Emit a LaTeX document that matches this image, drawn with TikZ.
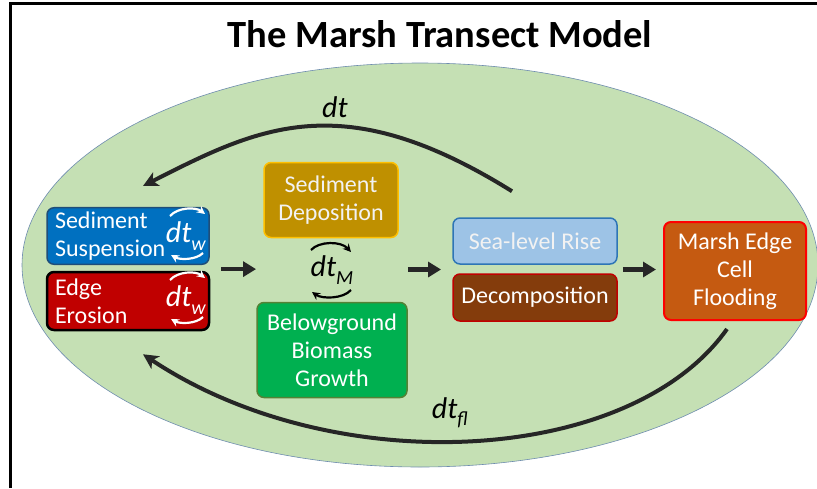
\documentclass[tikz,border=0pt]{standalone}
\usepackage{fontspec}
\setmainfont{Carlito}
\definecolor{marshgreen}{RGB}{197,224,180}
\definecolor{marshline}{RGB}{110,140,175}
\definecolor{suspblue}{RGB}{0,112,192}
\definecolor{suspedge}{RGB}{31,78,121}
\definecolor{erosred}{RGB}{192,0,0}
\definecolor{depgold}{RGB}{191,144,0}
\definecolor{depedge}{RGB}{255,192,0}
\definecolor{biogreen}{RGB}{0,176,80}
\definecolor{bioedge}{RGB}{84,130,53}
\definecolor{slrblue}{RGB}{157,195,230}
\definecolor{slredge}{RGB}{46,117,182}
\definecolor{decbrown}{RGB}{132,60,12}
\definecolor{floodorange}{RGB}{197,90,17}
\definecolor{floodedge}{RGB}{255,0,0}
\definecolor{arrowgray}{RGB}{38,38,38}
\usetikzlibrary{shapes.geometric, arrows.meta, positioning, calc, fit}

\newcommand{\dtsub}[1]{\textit{dt}\raisebox{-0.5ex}{\fontsize{20}{20}\selectfont\textit{#1}}}

\begin{document}
\begin{tikzpicture}[
  x=1pt, y=-1pt,
  box/.style={draw, rounded corners=7pt, line width=1.5pt, text=white, font=\fontsize{24}{28}\selectfont, align=center, inner sep=4pt},
  flow/.style={-{Triangle[length=13pt, width=15pt]}, line width=4.5pt, draw=arrowgray},
  bigloop/.style={-{Stealth[length=15pt, width=15pt, inset=4pt]}, line width=4pt, draw=arrowgray},
  cyc/.style={line width=2.2pt, -{Stealth[length=8pt, width=8pt]}},
  dtlabel/.style={font=\fontsize{30}{30}\selectfont}
]
  \useasboundingbox (0,0) rectangle (817,488);

  % Frame
  \draw[line width=3pt] (10,488) -- (10,3) -- (817,3);

  % Title and marsh
  \node[font=\bfseries\fontsize{38.5}{40}\selectfont] (title) at (440,34) {The Marsh Transect Model};
  \node[draw=marshline, fill=marshgreen, ellipse, line width=0.6pt, minimum width=796pt, minimum height=404pt] (marsh) at (420,265) {};

  % Processes
  \node[box, fill=suspblue, draw=suspedge, text width=146pt, align=left, inner xsep=8pt, minimum height=56pt] (susp) at (128,236) {Sediment\\Suspension};
  \node[box, fill=erosred, draw=black, line width=2.5pt, text width=146pt, align=left, inner xsep=8pt, minimum height=58pt] (eros) at (128,301) {Edge\\Erosion};
  \node[box, fill=depgold, draw=depedge, text=white!95!black, minimum width=134pt, minimum height=75pt] (dep) at (331,200) {Sediment\\Deposition};
  \node[box, fill=biogreen, draw=bioedge, minimum width=150pt, minimum height=95pt] (bio) at (332,350) {Belowground\\Biomass\\Growth};
  \node[box, fill=slrblue, draw=slredge, text=white!95!black, minimum width=164pt, minimum height=46pt] (slr) at (535,241) {Sea-level Rise};
  \node[box, fill=decbrown, draw=erosred, minimum width=164pt, minimum height=47pt] (dec) at (535,297.5) {Decomposition};
  \node[box, fill=floodorange, draw=floodedge, line width=2pt, minimum width=142pt, minimum height=98pt] (flood) at (735,271) {Marsh Edge\\Cell\\Flooding};

  % Time steps
  \node[dtlabel, text=white] (dtS) at (186,236) {\dtsub{w}};
  \node[dtlabel, text=white] (dtE) at (186,300) {\dtsub{w}};
  \node[dtlabel] (dtM) at (332,270) {\dtsub{M}};
  \foreach \n in {dtS, dtE} {
    \draw[cyc, white] ($(\n)+(-16,-20)$) .. controls ($(\n)+(-8,-29)$) and ($(\n)+(10,-29)$) .. ($(\n)+(19,-22)$);
    \draw[cyc, white] ($(\n)+(17,17)$) .. controls ($(\n)+(10,24)$) and ($(\n)+(-6,24)$) .. ($(\n)+(-15,19)$);
  }
  \draw[cyc] ($(dtM)+(-21,-20)$) .. controls ($(dtM)+(-13,-29)$) and ($(dtM)+(9,-29)$) .. ($(dtM)+(19,-18)$);
  \draw[cyc] ($(dtM)+(19,20)$) .. controls ($(dtM)+(11,29)$) and ($(dtM)+(-10,29)$) .. ($(dtM)+(-20,22)$);

  % Flow
  \node[fit=(susp)(eros), inner sep=0pt] (leftgrp) {};
  \node[fit=(dep)(bio), inner sep=0pt] (midgrp) {};
  \node[fit=(slr)(dec), inner sep=0pt] (rightgrp) {};
  \draw[flow, shorten <=11pt] (leftgrp.east) -- (leftgrp.east -| midgrp.west);
  \draw[flow, shorten >=11pt] (rightgrp.west -| midgrp.east) -- (rightgrp.west);
  \draw[flow, shorten <=5pt, shorten >=7pt] (rightgrp.east) -- (rightgrp.east -| flood.west);

  % Outer loops
  \draw[bigloop] ($(slr.north)+(-23,-26)$) .. controls ($(slr.north)+(-193,-132)$) and ($(susp.north)+(131,-80)$) .. ($(susp.north)+(15,-21)$);
  \node[dtlabel] (dtlbl) at (335,107) {\textit{dt}};
  \draw[bigloop] ($(flood.south)+(-8,8)$) .. controls ($(flood.south)+(-105,145)$) and ($(eros.south)+(206,150)$) .. ($(eros.south)+(15,23)$);
  \node[dtlabel] (dtfl) at (450,413) {\dtsub{fl}};
\end{tikzpicture}
\end{document}
